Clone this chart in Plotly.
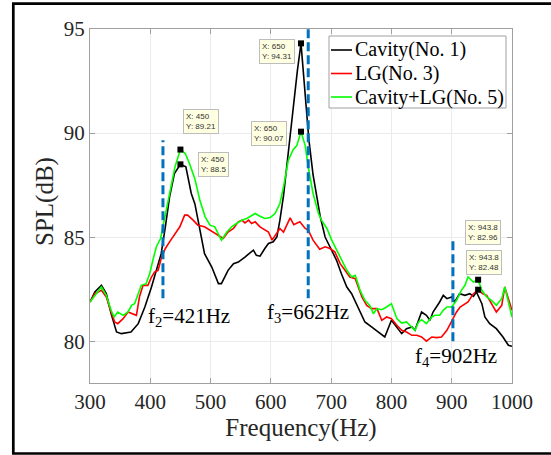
import plotly.graph_objects as go

# --- measured spectra -------------------------------------------------------
freq_cavity = [300, 308, 319, 327, 335, 344, 352, 368, 380, 391, 402, 410, 418, 425, 432, 440, 450, 459, 468, 474,
               482, 490, 502, 513, 518, 529, 538, 546, 557, 565, 571, 576, 582, 590, 596, 604, 610, 615, 621, 626,
               632, 638, 644, 650, 656, 663, 670, 676, 682, 690, 701, 709, 717, 726, 734, 745, 756, 767, 778, 789,
               800, 809, 817, 825, 834, 839, 845, 850, 858, 864, 869, 875, 880, 886, 892, 900, 905, 913, 922, 930,
               936, 941, 950, 955, 963, 974, 985, 994, 1000]
spl_cavity = [81.89, 82.37, 82.69, 82.29, 81.33, 80.45, 80.37, 80.45, 80.85, 81.65, 82.61, 83.41, 84.2, 85.5, 86.94, 88.06, 88.5, 88.38, 87.1, 86.6,
              85.4, 84.21, 83.57, 82.77, 82.77, 83.41, 83.73, 83.81, 84.05, 84.22, 84.38, 84.13, 84.09, 84.46, 84.70, 84.78, 85.01, 85.82, 87.0, 88.3,
              89.9, 91.6, 93.0, 94.31, 92.0, 89.7, 88.0, 86.94, 85.98, 85.01, 84.38, 83.89, 83.25, 82.61, 82.29, 81.65, 80.93, 80.69, 80.45, 80.21,
              81.01, 80.69, 80.37, 80.61, 80.69, 80.53, 81.01, 81.41, 81.25, 81.01, 81.41, 81.65, 81.89, 82.21, 82.05, 82.13, 81.89, 82.29, 82.21, 82.29,
              82.16, 82.37, 81.81, 81.17, 80.85, 80.61, 80.21, 79.81, 79.76]

freq_lg = [300, 308, 319, 327, 335, 341, 346, 355, 363, 371, 377, 382, 388, 396, 402, 407, 413, 418, 425, 432,
           440, 449, 457, 462, 471, 479, 490, 499, 507, 516, 521, 529, 538, 546, 552, 557, 563, 568, 574, 582,
           590, 596, 602, 610, 615, 621, 626, 632, 638, 648, 657, 662, 670, 681, 690, 698, 706, 715, 723, 731,
           740, 745, 751, 759, 767, 776, 784, 792, 800, 809, 817, 825, 834, 842, 850, 858, 867, 875, 883, 892,
           900, 908, 914, 919, 927, 936, 943.8, 951, 958, 966, 974, 983, 988, 994, 1000]
spl_lg = [81.89, 82.29, 82.45, 82.13, 81.41, 80.93, 80.85, 81.09, 81.41, 81.33, 81.25, 82.13, 82.69, 82.69, 83.09, 83.33, 83.41, 83.98, 84.46, 84.78,
          85.1, 85.5, 86.06, 86.06, 85.82, 85.58, 85.5, 85.34, 85.18, 85.01, 84.94, 85.25, 85.42, 85.74, 85.82, 85.69, 85.82, 85.66, 85.74, 85.5,
          85.34, 85.25, 84.86, 85.18, 85.42, 85.25, 85.58, 85.93, 85.6, 85.74, 85.42, 85.34, 84.86, 84.42, 84.54, 84.46, 84.30, 83.73, 83.41, 83.09,
          83.01, 82.61, 82.13, 81.73, 81.57, 81.57, 81.01, 81.17, 81.09, 80.77, 80.53, 80.45, 80.29, 80.29, 80.21, 80.01, 80.21, 80.18, 80.21, 80.53,
          81.01, 81.41, 81.65, 81.73, 81.89, 82.29, 82.48, 82.29, 82.21, 81.81, 81.41, 81.73, 82.61, 82.05, 81.49]

freq_combo = [300, 308, 319, 327, 335, 340, 346, 355, 363, 369, 374, 380, 385, 393, 399, 405, 410, 417, 424, 432,
              441, 447, 450, 458, 465, 474, 482, 491, 499, 507, 513, 518, 527, 535, 543, 552, 560, 568, 574, 582,
              590, 599, 607, 615, 621, 629, 637, 643, 650, 657, 662, 670, 679, 684, 693, 701, 709, 717, 726, 734,
              740, 748, 756, 764, 770, 776, 784, 792, 800, 809, 817, 825, 834, 839, 845, 850, 858, 867, 872, 880,
              886, 892, 900, 908, 916, 922, 927, 936, 943.8, 950, 958, 966, 974, 983, 988, 994, 1000]
spl_combo = [81.89, 82.21, 82.61, 82.21, 81.49, 81.17, 81.41, 81.25, 81.41, 81.73, 81.81, 82.29, 82.69, 82.77, 83.25, 83.98, 84.53, 84.94, 85.98, 87.18,
             88.38, 88.94, 89.21, 89.02, 88.54, 87.8, 86.8, 85.98, 85.58, 85.50, 85.18, 84.86, 85.25, 85.5, 85.66, 85.82, 85.90, 86.06, 86.14, 86.01,
             85.90, 85.95, 86.14, 86.62, 87.42, 88.70, 89.2, 89.4, 90.07, 89.4, 88.38, 87.1, 86.14, 85.82, 85.42, 84.86, 84.38, 83.89, 83.41, 83.09,
             83.17, 82.45, 81.97, 81.73, 81.33, 81.57, 81.52, 81.65, 81.81, 81.09, 80.88, 80.93, 80.69, 80.53, 80.93, 81.04, 80.85, 81.17, 81.25, 81.25,
             81.49, 81.65, 81.65, 81.97, 82.45, 82.69, 83.09, 82.85, 82.96, 82.45, 82.13, 81.97, 81.73, 82.05, 82.61, 81.89, 81.17]

series_names = ["Cavity(No. 1)", "LG(No. 3)", "Cavity+LG(No. 5)"]
series_colors = ["#000000", "#FF0000", "#00FF00"]

# data-cursor points
tip_freq = [450, 450, 650, 650, 943.8, 943.8]
tip_spl = [89.21, 88.5, 94.31, 90.07, 82.96, 82.48]

# resonance frequencies and the span of their dashed markers
res_index = [2, 3, 4]
res_freq = [421, 662, 902]
res_low = [82.07, 82.07, 80.0]
res_high = [89.66, 95.0, 85.0]

x_ticks = [300, 400, 500, 600, 700, 800, 900, 1000]
y_ticks = [80, 85, 90, 95]

# --- figure geometry (pixels) -----------------------------------------------
W, H = 551, 455
L, R, T, B = 90, 512, 29, 383


def px_x(p):
    return (p - L) / (R - L)


def px_y(p):
    return (B - p) / (B - T)


SERIF = "Liberation Serif, Times New Roman, serif"
SANS = "Liberation Sans, Arial, sans-serif"

fig = go.Figure()

for fx, sy, name, col in zip([freq_cavity, freq_lg, freq_combo],
                             [spl_cavity, spl_lg, spl_combo],
                             series_names, series_colors):
    fig.add_trace(go.Scatter(x=fx, y=sy, mode="lines", name=name,
                             line=dict(color=col, width=1.6), showlegend=False))

for f, lo, hi in zip(res_freq, res_low, res_high):
    fig.add_trace(go.Scatter(x=[f, f], y=[lo, hi], mode="lines", showlegend=False,
                             line=dict(color="#0072BD", width=3, dash="9px,4px")))

fig.add_trace(go.Scatter(x=tip_freq, y=tip_spl, mode="markers", showlegend=False,
                         marker=dict(symbol="square", size=6, color="#000000")))

annotations = []

# data-cursor boxes (pixel offset of box centre from its point; +y is down)
tip_offsets = [(20.5, -28), (33.5, 0), (-24, 8), (-32, 1.5), (5, -47), (5.5, -27)]
for f, s, (dx, dy) in zip(tip_freq, tip_spl, tip_offsets):
    annotations.append(dict(
        x=f, y=s, xref="x", yref="y", text=f"X: {f:g}<br>Y: {s:g}",
        showarrow=False, xshift=dx, yshift=-dy,
        xanchor="center", yanchor="middle", align="left",
        font=dict(family=SANS, size=8, color="#333333"),
        bgcolor="#FFFFE1", bordercolor="#BDBDBD", borderwidth=1, borderpad=2))

# resonance labels
label_pos = [(392.9, 81.15), (590.2, 81.35), (835.7, 79.23)]
for i, f, (lx, ly) in zip(res_index, res_freq, label_pos):
    annotations.append(dict(
        x=lx, y=ly, xref="x", yref="y", text=f"f<sub>{i}</sub>={f}Hz",
        showarrow=False, xanchor="left", yanchor="middle",
        font=dict(family=SERIF, size=21, color="#000000")))

# y-axis title
annotations.append(dict(x=px_x(45), y=px_y(202), xref="paper", yref="paper",
                        text="SPL(dB)", textangle=-90, showarrow=False,
                        xanchor="center", yanchor="middle",
                        font=dict(family=SERIF, size=25, color="#262626")))

# legend
shapes = []
leg_x0, leg_x1, leg_y0, leg_y1 = 329, 506, 36, 108
shapes.append(dict(type="rect", xref="paper", yref="paper",
                   x0=px_x(leg_x0), x1=px_x(leg_x1), y0=px_y(leg_y1), y1=px_y(leg_y0),
                   line=dict(color="#A0A0A0", width=1), fillcolor="white", layer="above"))
for k, (name, col) in enumerate(zip(series_names, series_colors)):
    yrow = 50 + 23.5 * k
    shapes.append(dict(type="line", xref="paper", yref="paper",
                       x0=px_x(331), x1=px_x(352), y0=px_y(yrow), y1=px_y(yrow),
                       line=dict(color=col, width=1.6), layer="above"))
    annotations.append(dict(x=px_x(353), y=px_y(yrow), xref="paper", yref="paper",
                            text=name, showarrow=False, xanchor="left", yanchor="middle",
                            font=dict(family=SERIF, size=20, color="#000000")))

# outer frame
shapes.append(dict(type="line", xref="paper", yref="paper",
                   x0=px_x(13.3), x1=px_x(13.3), y0=px_y(454), y1=px_y(3.7),
                   line=dict(color="black", width=2.7)))
shapes.append(dict(type="line", xref="paper", yref="paper",
                   x0=px_x(12), x1=px_x(560), y0=px_y(3.7), y1=px_y(3.7),
                   line=dict(color="black", width=2.7)))
shapes.append(dict(type="line", xref="paper", yref="paper",
                   x0=px_x(12), x1=px_x(560), y0=px_y(453.5), y1=px_y(453.5),
                   line=dict(color="black", width=2.7)))

axis_common = dict(showline=True, linecolor="#A0A0A0", linewidth=1, mirror="ticks",
                   ticks="inside", ticklen=5, tickcolor="#A0A0A0",
                   showgrid=True, gridcolor="#EBEBEB", gridwidth=1, zeroline=False,
                   tickfont=dict(family=SERIF, size=21, color="#262626"))

fig.update_layout(
    width=W, height=H, autosize=False,
    margin=dict(l=L, r=W - R, t=T, b=H - B, pad=0),
    paper_bgcolor="white", plot_bgcolor="white",
    xaxis=dict(range=[300, 1000], tickvals=x_ticks,
               title=dict(text="Frequency(Hz)", font=dict(family=SERIF, size=25, color="#262626"), standoff=2),
               **axis_common),
    yaxis=dict(range=[78, 95], tickvals=y_ticks, **axis_common),
    annotations=annotations, shapes=shapes, showlegend=False,
)

fig.write_html("out.html")
